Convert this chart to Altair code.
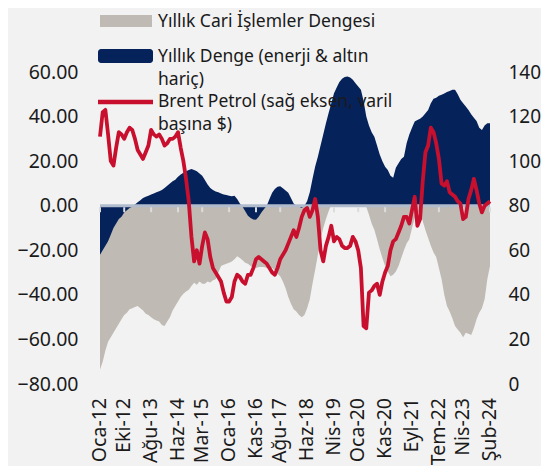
import altair as alt
import pandas as pd

# ---- data ----
month_names = ["Oca", "Şub", "Mar", "Nis", "May", "Haz", "Tem", "Ağu", "Eyl", "Eki", "Kas", "Ara"]
start_year = 2012
n_months = 146

tick_labels = ["Oca-12", "Eki-12", "Ağu-13", "Haz-14", "Mar-15", "Oca-16", "Kas-16", "Ağu-17",
               "Haz-18", "Nis-19", "Oca-20", "Kas-20", "Eyl-21", "Tem-22", "Nis-23", "Şub-24"]

# Yıllık Cari İşlemler Dengesi (sol eksen)
cari = [
    -73.5, -70, -65, -61, -59, -57, -55, -53, -51, -49, -48, -46.5,
    -46, -45.5, -45, -46, -47, -48.5, -49, -50, -51, -51.5, -52, -53.5,
    -54, -52, -50, -47, -45, -43, -41, -39.5, -38.5, -37.7, -36, -34.6,
    -35.5, -34, -35, -35, -34, -34.5, -33.5, -33, -30, -27, -26.5, -26,
    -25.6, -25, -24, -22.7, -23.5, -24.5, -25.6, -26, -27, -27.5, -27.9, -27.5,
    -27.5, -27.5, -28, -28, -28, -29, -30.5, -31.7, -34, -37, -41, -44,
    -46.5, -47.5, -49, -50, -49, -46, -42, -35, -28.7, -22, -15, -10,
    -6, -2.5, 0.5, 2, 4, 5.5, 6.5, 7, 7, 6, 5, 3.5,
    2, 1, 0.5, -0.5, -4, -8, -10.8, -15, -19.5, -23.5, -27, -29.5,
    -31.7, -31, -29.5, -27, -23.5, -20, -17, -15, -10, -5.5, -3, -3,
    -7, -11, -14.5, -18, -21, -23, -28, -33, -40, -45, -47.5, -50.5,
    -54, -55.5, -57, -59, -57, -57.5, -58, -55, -51, -48, -46, -42,
    -33, -27,
]

# Yıllık Denge (enerji & altın hariç) (sol eksen)
denge = [
    -22, -20, -18, -16, -13, -10, -8, -6, -5, -3, -2, -1,
    -0.5, 0.5, 1.5, 2.5, 3.5, 4, 4.5, 5, 5.5, 6, 6.5, 7,
    8, 9, 10, 11, 11.7, 13, 14, 14.8, 15.5, 16, 16.5, 16,
    15.5, 14.5, 13.5, 11.5, 9.5, 8, 7, 6.4, 6, 5.5, 5, 4.8,
    4.5, 4.2, 4.5, 3, 1, -0.5, -2.5, -4.5, -5.5, -6.2, -6.3, -5,
    -3, -1.5, 0, 3, 5.8, 7.5, 8.5, 8.7, 7.8, 6.8, 5.8, 3.5,
    1, 0, -0.5, -1, 0, 2, 6, 12, 17.6, 22, 27, 32,
    37, 41.6, 46, 50.5, 53, 55.5, 57, 57.8, 58, 57.5, 56.5, 55,
    53.5, 52, 47, 40, 36, 33, 31, 27, 23, 20, 17.5, 16,
    13.5, 12.5, 17, 19, 21, 22, 28, 32, 35, 37.8, 38.5, 39,
    40, 41.5, 43, 46, 48, 48.5, 49.3, 49.8, 50.3, 51, 51.5, 52,
    52, 50, 47.5, 46, 44.5, 43, 41, 39.5, 38, 35, 34, 36,
    37, 37,
]

# Brent Petrol (sağ eksen, varil başına $)
brent = [
    111, 122, 123, 112, 100, 98, 106, 113, 112, 110, 113, 115,
    114, 110, 105, 103, 101, 104, 107, 114, 112, 111, 112, 110,
    107, 108, 110, 110, 111, 113, 106, 100, 92, 82, 66, 55,
    60, 54, 62, 68, 65, 57, 52, 50, 48, 46, 41, 37,
    37, 39, 46, 49, 48, 46, 45, 49, 49, 52, 56, 57,
    56, 55, 54, 52, 50, 49, 52, 56, 58, 60, 63, 66,
    69, 66, 70, 75, 78, 79, 75, 78, 83, 75, 60, 55,
    62, 66, 71, 64, 66, 65, 62, 61, 61, 62, 66, 64,
    60, 52, 26, 25, 41, 42, 44, 45, 40, 46, 50, 53,
    60, 64, 65, 68, 71, 75, 75, 72, 78, 84, 71, 74,
    91, 104, 107, 115, 113, 108, 101, 90, 89, 91, 86, 85,
    84, 82, 81, 74, 75, 83, 87, 92, 87, 81, 77, 80,
    81, 82,
]

legend_labels = [
    "Yıllık Cari İşlemler Dengesi",
    "Yıllık Denge (enerji & altın\nhariç)",
    "Brent Petrol (sağ eksen, varil\nbaşına $)",
]

left_ticks = [-80, -60, -40, -20, 0, 20, 40, 60]
right_ticks = [0, 20, 40, 60, 80, 100, 120, 140]

# ---- build table ----
month_labels = [f"{month_names[k % 12]}-{(start_year + k // 12) % 100:02d}" for k in range(n_months)]
df = pd.DataFrame({"ay": month_labels, "cari": cari, "denge": denge, "brent": brent})
tick_df = pd.DataFrame({"ay": tick_labels})
one = pd.DataFrame({"a": [0]})

GRAY = "#bfbab3"
NAVY = "#06225a"
RED = "#c8102e"
FONT = "Noto Sans"
TXT = "#1a1a1a"
W, H = 390, 312

xscale = alt.Scale(type="point", domain=month_labels, padding=0)
yscale = alt.Scale(domain=[-80, 60], nice=False, zero=False)
rscale = alt.Scale(domain=[0, 140], nice=False, zero=False)

left_axis = alt.Axis(orient="left", values=left_ticks, format=".2f", domain=False, ticks=False,
                     grid=False, labelPadding=22, labelFont=FONT, labelFontSize=19.5,
                     labelColor=TXT, title=None)

right_axis = alt.Axis(orient="right", values=right_ticks, format="d", domain=False, ticks=False,
                      grid=False, labelPadding=18, labelFont=FONT, labelFontSize=19,
                      labelColor=TXT, title=None)

gray_area = alt.Chart(df).mark_area(color=GRAY, opacity=1).encode(
    x=alt.X("ay:O", scale=xscale, sort=None, axis=None),
    y=alt.Y("cari:Q", scale=yscale, axis=left_axis),
    y2=alt.Y2Datum(0),
)

navy_area = alt.Chart(df).mark_area(color=NAVY, opacity=1).encode(
    x=alt.X("ay:O", scale=xscale, sort=None, axis=None),
    y=alt.Y("denge:Q", scale=yscale, axis=None),
    y2=alt.Y2Datum(0),
)

zero_line = alt.Chart(one).mark_rule(color="#b0bccd", strokeWidth=3).encode(
    y=alt.YDatum(0, scale=yscale, axis=None),
)

ticks = alt.Chart(tick_df).mark_rule(color="#dcdcdc", strokeWidth=2).encode(
    x=alt.X("ay:O", scale=xscale, sort=None, axis=None),
    y=alt.YDatum(-0.7, scale=yscale, axis=None),
    y2=alt.Y2Datum(-2.9),
)

# category labels of the (low-positioned) horizontal axis, placed by the x scale
x_labels = alt.Chart(tick_df).mark_text(angle=270, align="right", baseline="middle", dx=2,
                                        font=FONT, fontSize=19.5, color=TXT).encode(
    x=alt.X("ay:O", scale=xscale, sort=None, axis=None),
    y=alt.value(H + 16),
    text="ay:N",
)

red_line = alt.Chart(df).mark_line(color=RED, strokeWidth=3.8, strokeJoin="round").encode(
    x=alt.X("ay:O", scale=xscale, sort=None, axis=None),
    y=alt.Y("brent:Q", scale=rscale, axis=right_axis),
)

# ---- legend (drawn inside the chart like the original) ----
leg_gray = alt.Chart(one).mark_rect(color=GRAY).encode(
    x=alt.value(0), x2=alt.value(52), y=alt.value(-57), y2=alt.value(-45))
leg_navy = alt.Chart(one).mark_rect(color=NAVY, cornerRadius=3).encode(
    x=alt.value(-2), x2=alt.value(53), y=alt.value(-23), y2=alt.value(-9))
leg_red = alt.Chart(one).mark_rule(color=RED, strokeWidth=4.5).encode(
    x=alt.value(-2), x2=alt.value(53), y=alt.value(30))


def leg_text(txt, y):
    return alt.Chart(one).mark_text(align="left", baseline="middle", font=FONT, fontSize=17.5,
                                    color=TXT, lineBreak="\n", lineHeight=23).encode(
        x=alt.value(58), y=alt.value(y), text=alt.value(txt))


leg_t1 = leg_text(legend_labels[0], -50)
leg_t2 = leg_text(legend_labels[1], -15)
leg_t3 = leg_text(legend_labels[2], 30)

chart = alt.layer(
    gray_area, navy_area, zero_line, ticks, x_labels, red_line,
    leg_gray, leg_navy, leg_red, leg_t1, leg_t2, leg_t3,
).resolve_scale(
    y="independent"
).properties(
    width=W, height=H,
    padding={"left": 92, "top": 64, "right": 51, "bottom": 82},
    autosize=alt.AutoSizeParams(type="none"),
    background="#f2f2f2",
).configure_view(stroke=None)

chart.save("out.html", embed_options={"renderer": "svg", "actions": False})
